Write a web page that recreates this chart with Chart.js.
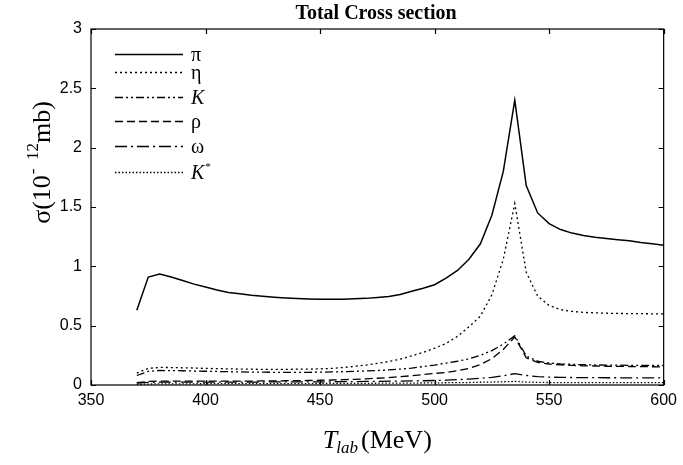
<!DOCTYPE html>
<html>
<head>
<meta charset="utf-8">
<script src="https://cdn.jsdelivr.net/npm/chart.js@4/dist/chart.umd.min.js"></script>
<style>
  html, body { margin: 0; padding: 0; background: #fff; }
  #wrap { width: 683px; height: 465px; }
</style>
</head>
<body>
<div id="wrap"><canvas id="chart" width="683" height="465"></canvas></div>
<script>
// Beam energy grid (MeV)
const tLab = [370, 375, 380, 385, 390, 395, 400, 405, 410, 415, 420, 425, 430, 435, 440, 445,
  450, 455, 460, 465, 470, 475, 480, 485, 490, 495, 500, 505, 510, 515, 520, 525, 530, 535,
  540, 545, 550, 555, 560, 565, 570, 575, 580, 585, 590, 595, 600];

// Cross sections (10^-12 mb)
const piVals = [0.63, 0.91, 0.935, 0.91, 0.88, 0.85, 0.825, 0.80, 0.78, 0.768, 0.756, 0.747, 0.739,
  0.733, 0.728, 0.725, 0.722, 0.722, 0.723, 0.726, 0.73, 0.737, 0.745, 0.763, 0.79, 0.815, 0.845,
  0.90, 0.965, 1.06, 1.19, 1.43, 1.80, 2.40, 1.68, 1.45, 1.36, 1.31, 1.28, 1.26, 1.245, 1.235,
  1.225, 1.215, 1.20, 1.19, 1.178];
const etaVals = [0.10, 0.14, 0.148, 0.147, 0.145, 0.143, 0.14, 0.138, 0.136, 0.134, 0.133, 0.132,
  0.132, 0.132, 0.133, 0.134, 0.136, 0.14, 0.147, 0.157, 0.168, 0.182, 0.198, 0.218, 0.245, 0.275,
  0.31, 0.35, 0.41, 0.49, 0.58, 0.76, 1.06, 1.53, 0.95, 0.75, 0.67, 0.635, 0.62, 0.612, 0.608,
  0.605, 0.603, 0.602, 0.601, 0.60, 0.60];
const kVals = [0.08, 0.115, 0.122, 0.121, 0.12, 0.118, 0.116, 0.114, 0.112, 0.11, 0.109, 0.108,
  0.107, 0.107, 0.107, 0.107, 0.108, 0.11, 0.112, 0.115, 0.118, 0.122, 0.127, 0.134, 0.143, 0.155,
  0.168, 0.185, 0.2, 0.22, 0.25, 0.29, 0.345, 0.415, 0.245, 0.2, 0.185, 0.178, 0.174, 0.171, 0.169,
  0.168, 0.167, 0.166, 0.165, 0.165, 0.164];
const rhoVals = [0.02, 0.03, 0.033, 0.033, 0.033, 0.033, 0.033, 0.033, 0.033, 0.033, 0.033, 0.034,
  0.035, 0.036, 0.037, 0.038, 0.04, 0.042, 0.045, 0.048, 0.052, 0.057, 0.063, 0.07, 0.078, 0.088,
  0.098, 0.105, 0.12, 0.14, 0.172, 0.222, 0.3, 0.405, 0.23, 0.19, 0.177, 0.17, 0.165, 0.162, 0.16,
  0.158, 0.157, 0.156, 0.155, 0.154, 0.153];
const omegaVals = [0.015, 0.022, 0.025, 0.025, 0.025, 0.025, 0.025, 0.025, 0.025, 0.025, 0.025,
  0.025, 0.026, 0.026, 0.026, 0.026, 0.026, 0.027, 0.028, 0.029, 0.03, 0.031, 0.032, 0.033, 0.035,
  0.036, 0.038, 0.041, 0.045, 0.05, 0.056, 0.065, 0.078, 0.095, 0.08, 0.07, 0.066, 0.064, 0.063,
  0.062, 0.062, 0.061, 0.061, 0.06, 0.06, 0.06, 0.06];
const kStarVals = [0.005, 0.008, 0.01, 0.01, 0.01, 0.01, 0.011, 0.011, 0.011, 0.011, 0.012, 0.012,
  0.012, 0.012, 0.012, 0.012, 0.013, 0.013, 0.013, 0.014, 0.014, 0.015, 0.015, 0.016, 0.016, 0.017,
  0.018, 0.019, 0.02, 0.021, 0.023, 0.025, 0.027, 0.03, 0.025, 0.022, 0.021, 0.02, 0.02, 0.02,
  0.02, 0.02, 0.02, 0.02, 0.02, 0.02, 0.02];

const xTicks = [350, 400, 450, 500, 550, 600];
const yTicks = [0, 0.5, 1, 1.5, 2, 2.5, 3];

const SERIF = '"Liberation Serif", "DejaVu Serif", serif';
const SANS = '"Liberation Sans", Arial, sans-serif';

function pairs(vals) {
  return tLab.map((t, i) => ({ x: t, y: vals[i] }));
}

function series(label, vals, dash, width, italic) {
  return {
    label: label,
    data: pairs(vals),
    borderColor: "#000",
    borderWidth: width,
    borderDash: dash,
    pointRadius: 0,
    fill: false,
    tension: 0,
    italic: italic
  };
}

const datasets = [
  series("π", piVals, [], 1.5, false),
  series("η", etaVals, [2, 3], 1.3, false),
  series("K", kVals, [8, 3, 2, 3, 2, 3], 1.3, true),
  series("ρ", rhoVals, [8, 4], 1.3, false),
  series("ω", omegaVals, [12, 4, 2, 4], 1.3, false),
  series("K*", kStarVals, [1.5, 2], 1.3, true)
];

// Frame, inward ticks, titles and legend drawn on top of the chart
const decorations = {
  id: "decorations",
  afterDraw(chart) {
    const ctx = chart.ctx;
    const area = chart.chartArea;
    const xs = chart.scales.x;
    const ys = chart.scales.y;
    ctx.save();

    // box + inward ticks on all four sides
    ctx.strokeStyle = "#000";
    ctx.lineWidth = 1.2;
    ctx.setLineDash([]);
    ctx.strokeRect(area.left, area.top, area.right - area.left, area.bottom - area.top);
    ctx.beginPath();
    xTicks.forEach((v) => {
      const px = Math.round(xs.getPixelForValue(v)) + 0.5;
      ctx.moveTo(px, area.bottom); ctx.lineTo(px, area.bottom - 5);
      ctx.moveTo(px, area.top); ctx.lineTo(px, area.top + 5);
    });
    yTicks.forEach((v) => {
      const py = Math.round(ys.getPixelForValue(v)) + 0.5;
      ctx.moveTo(area.left, py); ctx.lineTo(area.left + 5, py);
      ctx.moveTo(area.right, py); ctx.lineTo(area.right - 5, py);
    });
    ctx.stroke();

    ctx.fillStyle = "#000";

    // title
    ctx.font = "bold 20px " + SERIF;
    ctx.textAlign = "center";
    ctx.textBaseline = "alphabetic";
    ctx.fillText("Total Cross section", 376, 19);

    // x axis title: T_lab (MeV)
    ctx.textAlign = "left";
    const big = "26px " + SERIF;
    const bigIt = "italic 26px " + SERIF;
    const sub = "italic 17px " + SERIF;
    ctx.font = bigIt; const wT = ctx.measureText("T").width;
    ctx.font = sub; const wSub = ctx.measureText("lab").width;
    ctx.font = big; const wUnit = ctx.measureText("(MeV)").width;
    let x0 = (area.left + area.right) / 2 - (wT + wSub + 2 + wUnit) / 2;
    const base = 448;
    ctx.font = bigIt; ctx.fillText("T", x0, base);
    ctx.font = sub; ctx.fillText("lab", x0 + wT - 1, base + 5);
    ctx.font = big; ctx.fillText("(MeV)", x0 + wT + wSub + 2, base);

    // y axis title: σ(10^-12 mb)
    ctx.save();
    ctx.translate(50, 0);
    ctx.rotate(-Math.PI / 2);
    const supF = "17px " + SERIF;
    ctx.font = big; const w1 = ctx.measureText("σ(10").width;
    ctx.font = supF; const w2 = ctx.measureText("-  12").width;
    ctx.font = big; const w3 = ctx.measureText("mb)").width;
    let s = -163 - (w1 + w2 + w3) / 2;
    ctx.font = big; ctx.fillText("σ(10", s, 0);
    ctx.font = supF; ctx.fillText("-  12", s + w1 + 1, -12);
    ctx.font = big; ctx.fillText("mb)", s + w1 + w2 + 1, 0);
    ctx.restore();

    // legend
    const rows = [54, 72, 97, 121, 146, 172];
    chart.data.datasets.forEach((ds, i) => {
      const y = rows[i] + 0.5;
      ctx.beginPath();
      ctx.lineWidth = ds.borderWidth;
      ctx.setLineDash(ds.borderDash);
      ctx.moveTo(115, y);
      ctx.lineTo(183, y);
      ctx.stroke();
      ctx.setLineDash([]);
      const name = ds.label.replace("*", "");
      ctx.font = (ds.italic ? "italic " : "") + "20px " + SERIF;
      ctx.fillText(name, 191, y + 6);
      if (ds.label.endsWith("*")) {
        const w = ctx.measureText(name).width;
        ctx.font = "11px " + SERIF;
        ctx.fillText("*", 191 + w + 1, y - 3);
      }
    });

    ctx.restore();
  }
};

new Chart(document.getElementById("chart"), {
  type: "line",
  data: { datasets: datasets },
  options: {
    responsive: false,
    devicePixelRatio: 1,
    animation: false,
    layout: { padding: { left: 0, right: 17, top: 29, bottom: 0 } },
    plugins: {
      legend: { display: false },
      tooltip: { enabled: false },
      title: { display: false }
    },
    scales: {
      x: {
        type: "linear",
        min: 350,
        max: 600,
        afterFit: (scale) => { scale.height = 80; },
        grid: { display: false, drawTicks: false },
        border: { display: false },
        ticks: {
          stepSize: 50,
          padding: 6,
          color: "#000",
          maxRotation: 0,
          font: { family: SANS, size: 16 }
        }
      },
      y: {
        min: 0,
        max: 3,
        afterFit: (scale) => { scale.width = 91; },
        grid: { display: false, drawTicks: false },
        border: { display: false },
        ticks: {
          stepSize: 0.5,
          padding: 9,
          color: "#000",
          font: { family: SANS, size: 16 },
          callback: (v) => String(v)
        }
      }
    }
  },
  plugins: [decorations]
});
</script>
</body>
</html>
